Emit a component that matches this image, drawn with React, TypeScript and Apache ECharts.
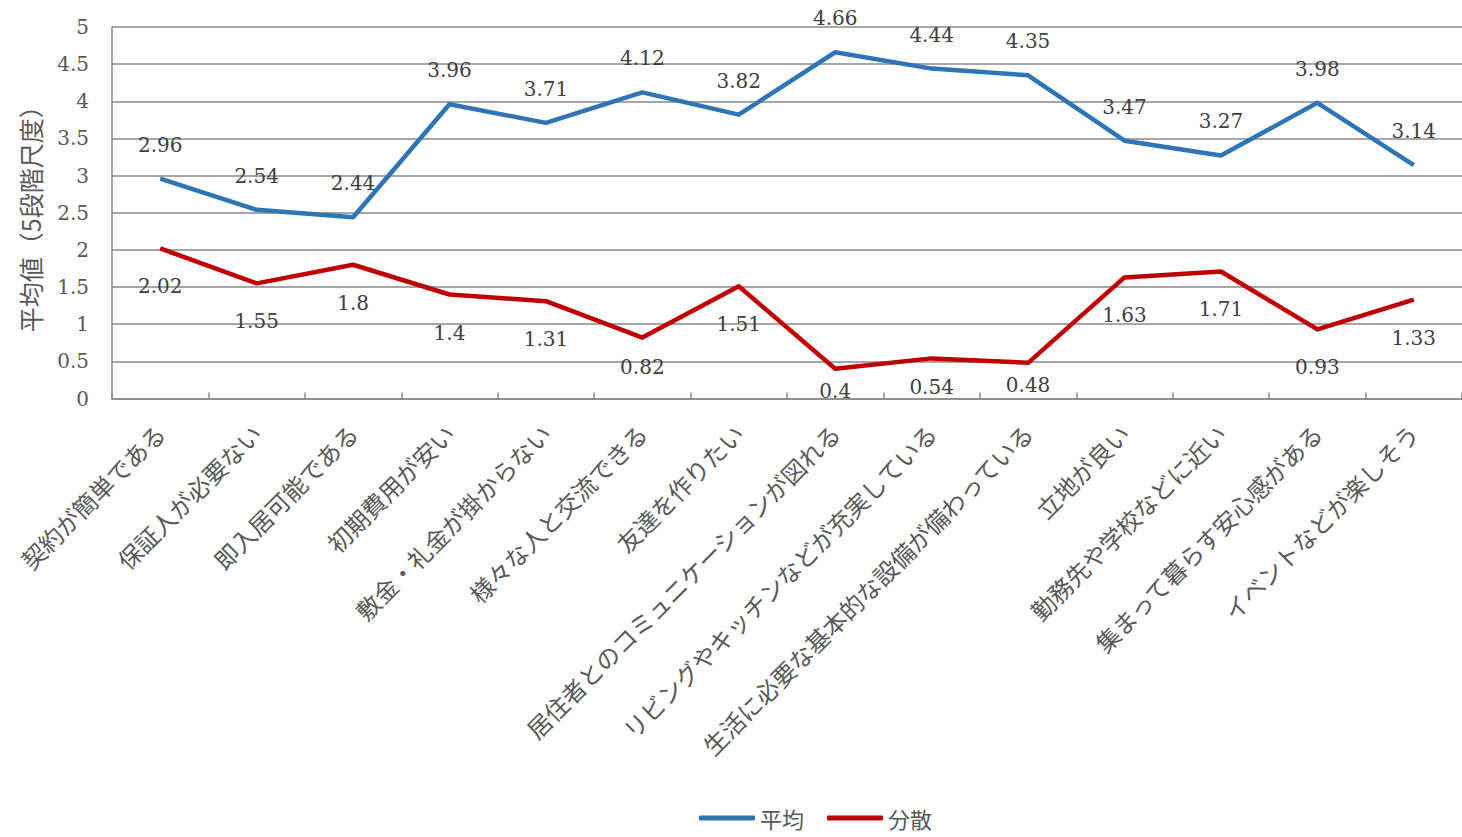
import React, { useEffect, useRef } from "react";
import * as echarts from "echarts";

// 評価項目
const categories = [
  "契約が簡単である",
  "保証人が必要ない",
  "即入居可能である",
  "初期費用が安い",
  "敷金・礼金が掛からない",
  "様々な人と交流できる",
  "友達を作りたい",
  "居住者とのコミュニケーションが図れる",
  "リビングやキッチンなどが充実している",
  "生活に必要な基本的な設備が備わっている",
  "立地が良い",
  "勤務先や学校などに近い",
  "集まって暮らす安心感がある",
  "イベントなどが楽しそう",
];

// 平均値
const meanValues = [2.96, 2.54, 2.44, 3.96, 3.71, 4.12, 3.82, 4.66, 4.44, 4.35, 3.47, 3.27, 3.98, 3.14];
// 分散
const varianceValues = [2.02, 1.55, 1.8, 1.4, 1.31, 0.82, 1.51, 0.4, 0.54, 0.48, 1.63, 1.71, 0.93, 1.33];

// 軸に近い分散ラベルは線に寄せて配置する（インデックス → ラベル距離）
const varianceLabelDistance: Record<number, number> = { 5: 19, 7: 12, 8: 19, 9: 12 };

const NUM_FONT = "DejaVu Serif";
const JP_FONT = "Noto Sans CJK JP";
const GRID_COLOR = "#888888";

export default function App() {
  const ref = useRef<HTMLDivElement>(null);

  useEffect(() => {
    if (!ref.current) return;
    const chart = echarts.init(ref.current, undefined, { renderer: "svg" });

    const varianceData = varianceValues.map((v, i) =>
      varianceLabelDistance[i] !== undefined
        ? { value: v, label: { distance: varianceLabelDistance[i] } }
        : v
    );

    chart.setOption({
      animation: false,
      backgroundColor: "#ffffff",
      grid: { left: 112, top: 27, width: 1359, height: 371.5 },
      legend: {
        left: 694,
        top: 802,
        icon: "roundRect",
        itemWidth: 56,
        itemHeight: 5,
        itemGap: 23,
        textStyle: { fontFamily: JP_FONT, fontSize: 22, color: "#595959" },
        data: ["平均", "分散"],
      },
      xAxis: {
        type: "category",
        data: categories,
        boundaryGap: true,
        axisLine: { show: true, lineStyle: { color: GRID_COLOR, width: 1.5 } },
        axisTick: { show: true, inside: true, length: 6, lineStyle: { color: GRID_COLOR, width: 1.5 } },
        axisLabel: {
          interval: 0,
          rotate: 45,
          margin: 30,
          fontFamily: JP_FONT,
          fontSize: 24,
          color: "#595959",
        },
      },
      yAxis: {
        type: "value",
        min: 0,
        max: 5,
        interval: 0.5,
        name: "平均値（5段階尺度）",
        nameLocation: "middle",
        nameGap: 70,
        nameTextStyle: { fontFamily: JP_FONT, fontSize: 25, color: "#595959" },
        axisLine: { show: true, lineStyle: { color: GRID_COLOR, width: 1.5 } },
        axisTick: { show: false },
        axisLabel: { margin: 23, fontFamily: NUM_FONT, fontSize: 20, color: "#595959" },
        splitLine: { show: true, lineStyle: { color: GRID_COLOR, width: 1.5 } },
      },
      series: [
        {
          name: "平均",
          type: "line",
          data: meanValues,
          symbol: "circle",
          symbolSize: 0.1,
          showSymbol: true,
          color: "#2E75B6",
          lineStyle: { width: 4.5, color: "#2E75B6", join: "round" },
          label: {
            show: true,
            position: "top",
            distance: 24,
            fontFamily: NUM_FONT,
            fontSize: 20,
            color: "#404040",
          },
        },
        {
          name: "分散",
          type: "line",
          data: varianceData,
          symbol: "circle",
          symbolSize: 0.1,
          showSymbol: true,
          color: "#C00000",
          lineStyle: { width: 4.5, color: "#C00000", join: "round" },
          label: {
            show: true,
            position: "bottom",
            distance: 28,
            fontFamily: NUM_FONT,
            fontSize: 20,
            color: "#404040",
          },
        },
      ],
    });
    return () => chart.dispose();
  }, []);

  return (
    <div
      ref={ref}
      style={{ position: "fixed", left: 0, top: 0, width: 1462, height: 837, background: "#fff" }}
    />
  );
}
